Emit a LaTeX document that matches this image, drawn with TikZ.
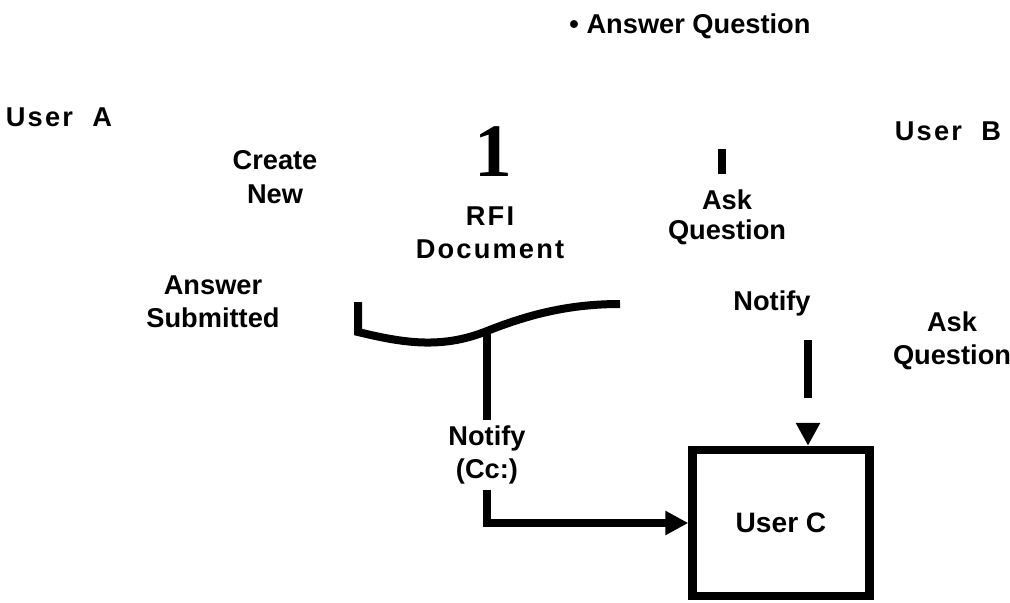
\documentclass[tikz,border=0pt]{standalone}
\usepackage{fontspec}
\setmainfont{Liberation Sans}
\newfontfamily\digitfont{Liberation Serif}
\newfontfamily\widefont[LetterSpace=8]{Liberation Sans}
\usetikzlibrary{arrows.meta,calc}
\tikzset{
  note/.style={font=\fontsize{15.5}{19}\selectfont\bfseries, align=center,
               inner sep=3pt},
  widenote/.style={note, font=\widefont\fontsize{15.5}{19}\selectfont\bfseries},
  userbox/.style={rectangle, draw=black, line width=0.17cm,
                  minimum width=3.54cm, minimum height=2.92cm,
                  font=\fontsize{16}{19}\selectfont\bfseries},
  wire/.style={line width=0.16cm, black},
  flow/.style={wire, -{Triangle[length=0.46cm, width=0.46cm]}},
}

\begin{document}
\begin{tikzpicture}[x=0.02cm, y=-0.02cm]
\useasboundingbox (0,0) rectangle (1010,602);

% ── labels ─────────────────────────────────────────────────
\node[note] (topq) at (690,26) {• Answer Question};
\node[widenote] (usera) at (59,117) {User\ \ A};
\node[widenote] (userb) at (948,131) {User\ \ B};
\node[font=\digitfont\fontsize{43}{43}\selectfont\bfseries, inner sep=0pt]
      (one) at (493,152) {1};
\node[note] (create) at (275,177) {Create\\New};
\node[widenote] (rfi) at (490,233) {RFI\\Document};
\node[note, font=\fontsize{15.5}{17}\selectfont\bfseries]
      (askq) at (727,217) {Ask\\Question};
\node[note] (answered) at (213,302) {Answer\\Submitted};
\node[note] (notifyb) at (772,303) {Notify};
\node[note] (askq2) at (952,341) {Ask\\Question};

% ── user C and the notify paths ────────────────────────────
\node[userbox] (userc) at (781,523) {User C};
\node[note] (notifycc) at (487,455) {Notify\\(Cc:)};

% RFI document stroke
\coordinate (doc@tl) at (358,302);
\coordinate (split) at (487,331);
\draw[wire, line join=miter] (doc@tl) -- (358,332)
      .. controls (400,342) and (440,350) .. (split)
      .. controls (530,314) and (570,304) .. (620,304);

% short stroke above Ask Question
\coordinate (qbar@t) at (722,149);
\coordinate (qbar@b) at (722,174);
\draw[wire] (qbar@t) -- (qbar@b);

\draw[wire] (split) -- (notifycc.north);
\draw[flow] (notifycc.south) |- (userc.west);

\coordinate (nb) at (808,340);
\draw[flow, dash pattern=on 1.16cm off 2cm] (nb) -- (nb |- userc.north);

\end{tikzpicture}
\end{document}
